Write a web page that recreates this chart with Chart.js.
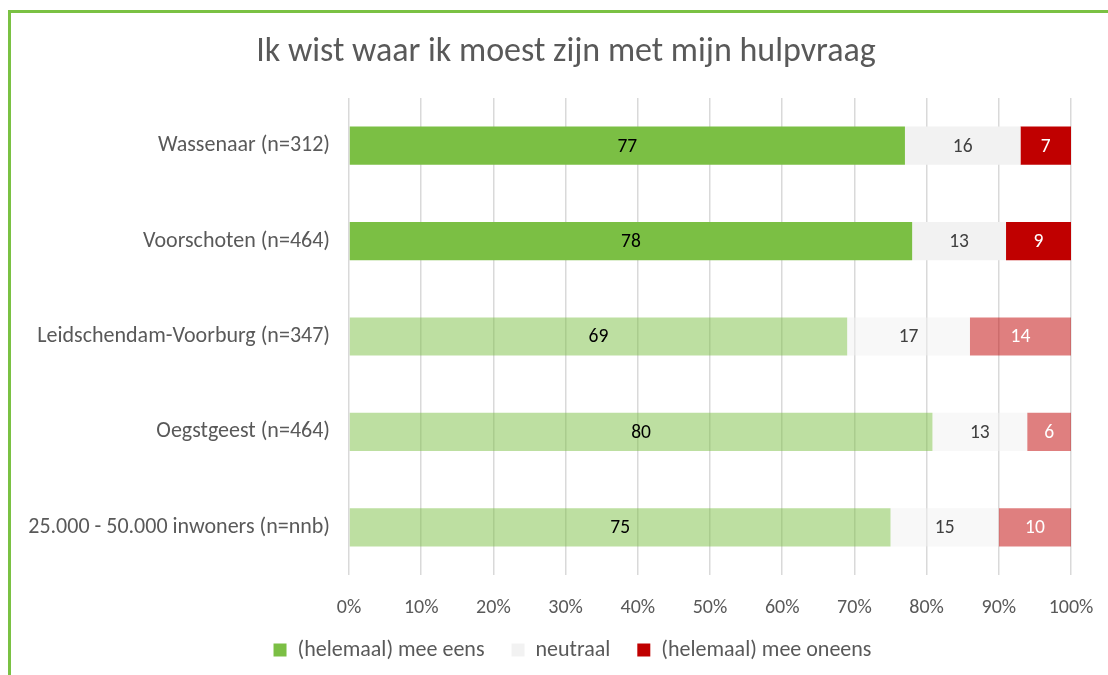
<!DOCTYPE html>
<html>
<head>
<meta charset="utf-8">
<script src="https://cdn.jsdelivr.net/npm/chart.js@4"></script>
<style>
  html, body { margin: 0; padding: 0; background: #ffffff; }
  #wrap { position: relative; width: 1108px; height: 675px; overflow: hidden; }
  #frame { position: absolute; left: 8px; top: 10px; width: 1200px; height: 800px;
           border-top: 3px solid #7AC143; border-left: 3px solid #7AC143; box-sizing: border-box; }
  #c { position: absolute; left: 0; top: 0; }
</style>
</head>
<body>
<div id="wrap">
  <div id="frame"></div>
  <canvas id="c" width="1108" height="675"></canvas>
</div>
<script>
const title = 'Ik wist waar ik moest zijn met mijn hulpvraag';
const categories = [
  'Wassenaar (n=312)',
  'Voorschoten (n=464)',
  'Leidschendam-Voorburg (n=347)',
  'Oegstgeest (n=464)',
  '25.000 - 50.000 inwoners (n=nnb)'
];
const seriesNames = ['(helemaal) mee eens', 'neutraal', '(helemaal) mee oneens'];
const eens     = [77, 78, 69, 80, 75];
const neutraal = [16, 13, 17, 13, 15];
const oneens   = [7, 9, 14, 6, 10];
const xTicks = [0, 10, 20, 30, 40, 50, 60, 70, 80, 90, 100];

const FONT = 'Calibri, Carlito, Lato, "Open Sans", sans-serif';
const TEXT = '#595959';

// 100% stacked: share of each row total
const totals = eens.map((v, i) => v + neutraal[i] + oneens[i]);
const pct = arr => arr.map((v, i) => v / totals[i] * 100);

const strong = [true, true, false, false, false];
const col = (rgb, i) => strong[i] ? `rgb(${rgb})` : `rgba(${rgb},0.5)`;
const colors = {
  eens: categories.map((_, i) => col('123,191,68', i)),
  neutraal: categories.map((_, i) => col('242,242,242', i)),
  oneens: categories.map((_, i) => col('192,0,0', i))
};
const labelColors = ['#000000', '#404040', '#ffffff'];
const rawSeries = [eens, neutraal, oneens];

const dataLabels = {
  id: 'dataLabels',
  afterDatasetsDraw(chart) {
    const ctx = chart.ctx;
    ctx.save();
    ctx.font = '19.5px ' + FONT;
    ctx.textAlign = 'center';
    ctx.textBaseline = 'middle';
    chart.data.datasets.forEach((ds, di) => {
      const meta = chart.getDatasetMeta(di);
      meta.data.forEach((bar, i) => {
        const p = bar.getProps(['x', 'y', 'base'], true);
        const cx = (p.x + p.base) / 2;
        ctx.fillStyle = labelColors[di];
        ctx.fillText(String(rawSeries[di][i]), cx, p.y + 1);
      });
    });
    ctx.restore();
  }
};

const titlePlugin = {
  id: 'titleText',
  afterDraw(chart) {
    const ctx = chart.ctx;
    ctx.save();
    ctx.font = '34px ' + FONT;
    ctx.fillStyle = TEXT;
    ctx.textAlign = 'center';
    ctx.textBaseline = 'alphabetic';
    ctx.fillText(title, 566, 61);
    ctx.restore();
  }
};

// let x tick labels extend below the axis box, and centre the legend like the original
const layoutTweaks = {
  id: 'layoutTweaks',
  afterLayout(chart) {
    const s = chart.scales.x;
    s.bottom = chart.height;
    s.height = s.bottom - s.top;
    chart.legend.left += 37;
    chart.legend.right += 37;
  }
};

new Chart(document.getElementById('c'), {
  type: 'bar',
  data: {
    labels: categories,
    datasets: [
      { label: seriesNames[0], data: pct(eens), backgroundColor: colors.eens },
      { label: seriesNames[1], data: pct(neutraal), backgroundColor: colors.neutraal },
      { label: seriesNames[2], data: pct(oneens), backgroundColor: colors.oneens }
    ]
  },
  options: {
    indexAxis: 'y',
    responsive: false,
    animation: false,
    devicePixelRatio: 1,
    categoryPercentage: 1,
    barPercentage: 0.4,
    layout: { padding: { left: 0, right: 37, top: 98, bottom: 4 } },
    plugins: {
      title: { display: false },
      legend: {
        position: 'bottom',
        labels: {
          color: TEXT, boxWidth: 13, boxHeight: 13, padding: 27,
          font: { family: FONT, size: 22 },
          generateLabels(chart) {
            const fills = ['rgb(123,191,68)', 'rgb(242,242,242)', 'rgb(192,0,0)'];
            return seriesNames.map((n, i) => ({
              text: n, fillStyle: fills[i], strokeStyle: fills[i], lineWidth: 0,
              fontColor: TEXT, datasetIndex: i, hidden: false
            }));
          }
        }
      },
      tooltip: { enabled: false }
    },
    scales: {
      x: {
        stacked: true, min: 0, max: 100,
        afterBuildTicks(scale) { scale.ticks = xTicks.map(v => ({ value: v })); },
        afterFit(scale) { scale.height = 37; scale.paddingLeft = 0; scale.paddingRight = 0; },
        ticks: { color: TEXT, padding: 21, font: { family: FONT, size: 20 },
                 callback: v => v + '%' },
        grid: { color: '#D9D9D9', lineWidth: 1.5, drawTicks: false },
        border: { display: false }
      },
      y: {
        stacked: true,
        afterFit(scale) { scale.width = 349; },
        ticks: { color: TEXT, padding: 19, font: { family: FONT, size: 22 } },
        grid: { display: false, drawTicks: false },
        border: { display: false }
      }
    }
  },
  plugins: [dataLabels, titlePlugin, layoutTweaks]
});
</script>
</body>
</html>
